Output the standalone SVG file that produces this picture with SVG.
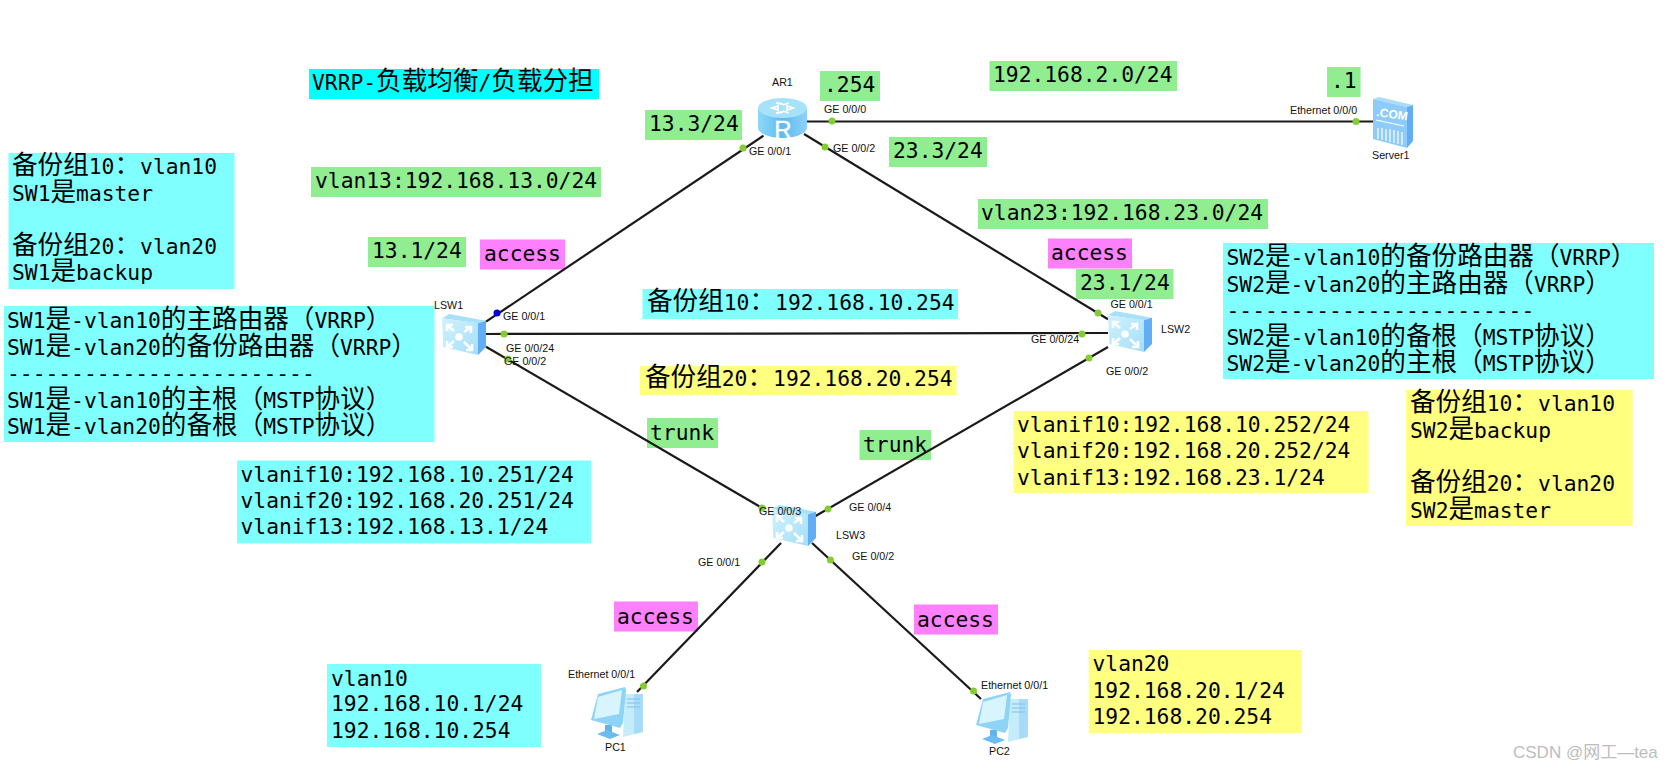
<svg xmlns="http://www.w3.org/2000/svg" width="1671" height="770" viewBox="0 0 1671 770">
<style>
.t{font-family:"DejaVu Sans Mono","Noto Sans CJK SC",monospace;font-size:21.3px;fill:#000}
.c{font-family:"Noto Sans CJK SC","DejaVu Sans Mono",sans-serif;font-size:25.6px}
.l{font-family:"Liberation Sans",Arial,sans-serif;font-size:10.7px;fill:#111}
.g{fill:#90EE90}.m{fill:#FF80FF}.b{fill:#80FFFF}.y{fill:#FFFF80}.a{fill:#00FFFF}
.w{stroke:#1a1a1a;stroke-width:2.2;fill:none}
.d{fill:#84CC33}
.ar{stroke:#fff;stroke-width:2.6;fill:none}
</style>
<defs>
<linearGradient id="rb" x1="0" y1="0" x2="1" y2="0"><stop offset="0" stop-color="#8fd8f8"/><stop offset=".5" stop-color="#5cbcf2"/><stop offset="1" stop-color="#8fd0f8"/></linearGradient>
<linearGradient id="sf" x1="0" y1="0" x2="1" y2="1"><stop offset="0" stop-color="#d0f2fd"/><stop offset="1" stop-color="#a4defa"/></linearGradient>
<g id="sw">
<polygon points="0,4.3 7,0 44,6.7 36,9.3" fill="#a8e0fa"/>
<polygon points="36,9.3 44,6.7 44,33 36,41" fill="#62aef5"/>
<polygon points="0,4.3 36,9.3 36,41 1.3,33" fill="url(#sf)"/>
<circle cx="17" cy="23" r="3.8" fill="#fff"/>
<path class="ar" d="M5,11 L12,17 M5,17V11H11 M29,13 L22,18 M29,19V13H23 M5,33 L12,27 M5,27V33H11 M30,36 L22,28 M30,30V36H24"/>
</g>
<g id="pc">
<polygon points="35,7 53,7 53,45 33,50" fill="#c4ecfb"/>
<polygon points="44,7 53,7 53,45 44,47" fill="#a6dcf8"/>
<path d="M37,12H50M37,16H50M37,20H50" stroke="#7cc0ea" stroke-width="1"/>
<polygon points="15,38 22,38 22,46 15,46" fill="#5fb4ee"/>
<polygon points="7,47 17,43 30,48 20,52" fill="#6cbcf0"/>
<polygon points="8,7 35,0 36,3 33,36 30,41 1,33" fill="#8ed4f6"/>
<polygon points="8,10 32,3 29,27 4,32" fill="#d8f4fd"/>
</g>
</defs>
<rect width="1671" height="770" fill="#fff"/>
<g id="notes">
<g id="title"><rect class="a" x="309" y="69" width="290" height="30"/><text class="t" x="312" y="90">VRRP-<tspan class="c">负载均衡</tspan>/<tspan class="c">负载分担</tspan></text></g>
<g id="n133"><rect class="g" x="645" y="110" width="97" height="30"/><text class="t" x="649" y="130.500">13.3/24</text></g>
<g id="n254"><rect class="g" x="820" y="71" width="60" height="30"/><text class="t" x="824" y="92">.254</text></g>
<g id="nvlan13"><rect class="g" x="311" y="167" width="290" height="30"/><text class="t" x="315" y="188">vlan13:192.168.13.0/24</text></g>
<g id="n131"><rect class="g" x="368" y="237" width="98" height="30"/><text class="t" x="372" y="258">13.1/24</text></g>
<g id="naccess1"><rect class="m" x="480" y="239.500" width="85" height="30"/><text class="t" x="484" y="261">access</text></g>
<g id="nsw1group"><rect class="b" x="8.5" y="153" width="226" height="136"/>
<text class="t" x="12" y="174"><tspan class="c">备份组</tspan>10<tspan class="c">：</tspan>vlan10</text>
<text class="t" x="12" y="200.500">SW1<tspan class="c">是</tspan>master</text>
<text class="t" x="12" y="253.500"><tspan class="c">备份组</tspan>20<tspan class="c">：</tspan>vlan20</text>
<text class="t" x="12" y="280">SW1<tspan class="c">是</tspan>backup</text></g>
<g id="nsw1role"><rect class="b" x="4" y="306" width="430.500" height="136"/>
<text class="t" x="7" y="328">SW1<tspan class="c">是</tspan>-vlan10<tspan class="c">的主路由器（</tspan>VRRP<tspan class="c">）</tspan></text>
<text class="t" x="7" y="354.500">SW1<tspan class="c">是</tspan>-vlan20<tspan class="c">的备份路由器（</tspan>VRRP<tspan class="c">）</tspan></text>
<text class="t" x="7" y="381">------------------------</text>
<text class="t" x="7" y="407.500">SW1<tspan class="c">是</tspan>-vlan10<tspan class="c">的主根（</tspan>MSTP<tspan class="c">协议）</tspan></text>
<text class="t" x="7" y="434">SW1<tspan class="c">是</tspan>-vlan20<tspan class="c">的备根（</tspan>MSTP<tspan class="c">协议）</tspan></text></g>
<g id="nvlanif1"><rect class="b" x="237" y="460.500" width="354" height="83"/>
<text class="t" x="240.500" y="481.500">vlanif10:192.168.10.251/24</text>
<text class="t" x="240.500" y="507.500">vlanif20:192.168.20.251/24</text>
<text class="t" x="240.500" y="534">vlanif13:192.168.13.1/24</text></g>
<g id="npc1"><rect class="b" x="327" y="664" width="214" height="83"/>
<text class="t" x="331" y="685.500">vlan10</text>
<text class="t" x="331" y="711">192.168.10.1/24</text>
<text class="t" x="331" y="737.500">192.168.10.254</text></g>
<g id="ng10"><rect class="b" x="642.500" y="289" width="315.500" height="30"/><text class="t" x="647" y="310"><tspan class="c">备份组</tspan>10<tspan class="c">：</tspan>192.168.10.254</text></g>
<g id="ng20"><rect class="y" x="640" y="366" width="316.500" height="29"/><text class="t" x="645" y="386"><tspan class="c">备份组</tspan>20<tspan class="c">：</tspan>192.168.20.254</text></g>
<g id="ntrunk1"><rect class="g" x="647" y="418" width="71" height="30"/><text class="t" x="650" y="440">trunk</text></g>
<g id="naccess3"><rect class="m" x="614" y="601.500" width="84" height="30"/><text class="t" x="617" y="623.500">access</text></g>
<g id="nnet2"><rect class="g" x="989.500" y="61" width="187.500" height="30"/><text class="t" x="993" y="82">192.168.2.0/24</text></g>
<g id="n1"><rect class="g" x="1327" y="67" width="33.600" height="30"/><text class="t" x="1331" y="88">.1</text></g>
<g id="n233"><rect class="g" x="889" y="137" width="98" height="30"/><text class="t" x="893" y="158">23.3/24</text></g>
<g id="nvlan23"><rect class="g" x="978" y="199" width="290" height="30"/><text class="t" x="981" y="220">vlan23:192.168.23.0/24</text></g>
<g id="naccess2"><rect class="m" x="1048" y="238.500" width="84" height="30"/><text class="t" x="1051" y="260">access</text></g>
<g id="n231"><rect class="g" x="1076" y="269" width="97.500" height="30"/><text class="t" x="1080" y="290">23.1/24</text></g>
<g id="nsw2role"><rect class="b" x="1223" y="243" width="431" height="136"/>
<text class="t" x="1226.500" y="265">SW2<tspan class="c">是</tspan>-vlan10<tspan class="c">的备份路由器（</tspan>VRRP<tspan class="c">）</tspan></text>
<text class="t" x="1226.500" y="291.500">SW2<tspan class="c">是</tspan>-vlan20<tspan class="c">的主路由器（</tspan>VRRP<tspan class="c">）</tspan></text>
<text class="t" x="1226.500" y="318">------------------------</text>
<text class="t" x="1226.500" y="344.500">SW2<tspan class="c">是</tspan>-vlan10<tspan class="c">的备根（</tspan>MSTP<tspan class="c">协议）</tspan></text>
<text class="t" x="1226.500" y="371">SW2<tspan class="c">是</tspan>-vlan20<tspan class="c">的主根（</tspan>MSTP<tspan class="c">协议）</tspan></text></g>
<g id="nvlanif2"><rect class="y" x="1013.500" y="411" width="355" height="82"/>
<text class="t" x="1017" y="432">vlanif10:192.168.10.252/24</text>
<text class="t" x="1017" y="458">vlanif20:192.168.20.252/24</text>
<text class="t" x="1017" y="484.500">vlanif13:192.168.23.1/24</text></g>
<g id="nsw2group"><rect class="y" x="1406" y="390" width="226.600" height="136"/>
<text class="t" x="1410" y="411"><tspan class="c">备份组</tspan>10<tspan class="c">：</tspan>vlan10</text>
<text class="t" x="1410" y="437.500">SW2<tspan class="c">是</tspan>backup</text>
<text class="t" x="1410" y="490.500"><tspan class="c">备份组</tspan>20<tspan class="c">：</tspan>vlan20</text>
<text class="t" x="1410" y="517.500">SW2<tspan class="c">是</tspan>master</text></g>
<g id="ntrunk2"><rect class="g" x="859.500" y="430" width="71.500" height="30"/><text class="t" x="863" y="452">trunk</text></g>
<g id="naccess4"><rect class="m" x="914" y="604.500" width="84" height="30"/><text class="t" x="917" y="626.500">access</text></g>
<g id="npc2"><rect class="y" x="1088.700" y="650" width="213.300" height="83"/>
<text class="t" x="1092.500" y="671">vlan20</text>
<text class="t" x="1092.500" y="697.500">192.168.20.1/24</text>
<text class="t" x="1092.500" y="724">192.168.20.254</text></g>
</g>
<g id="connectors">
<line class="w" x1="806" y1="121.500" x2="1373" y2="121.500"/>
<line class="w" x1="763.500" y1="135.700" x2="486" y2="321.700"/>
<line class="w" x1="804" y1="134" x2="1108" y2="319.300"/>
<line class="w" x1="486" y1="334" x2="1108" y2="333"/>
<line class="w" x1="486" y1="346.700" x2="760" y2="506.700"/>
<line class="w" x1="1108" y1="347" x2="815.600" y2="516"/>
<line class="w" x1="781" y1="543" x2="637" y2="692"/>
<line class="w" x1="812" y1="543" x2="981" y2="699"/>
<circle class="d" cx="743" cy="148" r="3.500"/><circle class="d" cx="832" cy="121" r="3.500"/><circle class="d" cx="825" cy="147" r="3.500"/><circle class="d" cx="1356" cy="121.500" r="3.500"/>
<circle cx="497" cy="313" r="3.500" fill="#0000e0"/><circle class="d" cx="504" cy="334" r="3.500"/><circle class="d" cx="508" cy="359" r="3.500"/>
<circle class="d" cx="1098" cy="313" r="3.500"/><circle class="d" cx="1082" cy="334" r="3.500"/><circle class="d" cx="1089" cy="358" r="3.500"/>
<circle class="d" cx="762" cy="508" r="3.500"/><circle class="d" cx="828" cy="509" r="3.500"/><circle class="d" cx="762" cy="562" r="3.500"/><circle class="d" cx="830.500" cy="560" r="3.500"/>
<circle class="d" cx="643.500" cy="686" r="3.500"/><circle class="d" cx="973.500" cy="691" r="3.500"/>
</g>
<g id="AR1">
<path d="M758,108V128A24.500,10 0 0 0 807,128V108Z" fill="url(#rb)"/>
<ellipse cx="782.500" cy="108" rx="24.500" ry="10" fill="#a6e2fa"/>
<path d="M772,108l6,-2v4zM793,108l-6,-2v4zM776,103l7,1M789,103l-6,2M776,113l7,-1M789,113l-6,-2" stroke="#fff" stroke-width="1.800" fill="none"/>
<text x="783" y="138" text-anchor="middle" font-family="Liberation Sans,sans-serif" font-size="24" fill="#fff" stroke="#fff" stroke-width=".4">R</text>
<text class="l" x="772" y="86">AR1</text>
<text class="l" x="749" y="154.500">GE 0/0/1</text><text class="l" x="824" y="113">GE 0/0/0</text><text class="l" x="833" y="152">GE 0/0/2</text>
</g>
<g id="Server1">
<polygon points="1373,99 1379,97 1413,105 1407,107" fill="#a8dcfa"/>
<polygon points="1407,107 1413,105 1413,141 1407,148" fill="#62aef5"/>
<polygon points="1373,99 1407,107 1407,148 1373,139" fill="#8fcbf8"/>
<text x="1376" y="116" font-family="Liberation Sans,sans-serif" font-size="12" font-weight="bold" fill="#fff" transform="rotate(8 1376 116)">.COM</text>
<path d="M1378,128V139M1382,128V140M1386,129V141M1390,129V142M1394,130V143M1398,131V144M1402,132V145M1376,120L1404,126" stroke="#fff" stroke-width="1.200" fill="none"/>
<text class="l" x="1372" y="158.500">Server1</text>
<text class="l" x="1290" y="114">Ethernet 0/0/0</text>
</g>
<g id="LSW1"><use href="#sw" x="442" y="314"/>
<text class="l" x="434" y="308.500">LSW1</text><text class="l" x="503" y="320">GE 0/0/1</text><text class="l" x="506" y="352">GE 0/0/24</text><text class="l" x="504" y="365">GE 0/0/2</text></g>
<g id="LSW2"><use href="#sw" x="1108" y="311"/>
<text class="l" x="1161" y="333">LSW2</text><text class="l" x="1110.500" y="308">GE 0/0/1</text><text class="l" x="1031" y="343">GE 0/0/24</text><text class="l" x="1106" y="375">GE 0/0/2</text></g>
<g id="LSW3"><use href="#sw" x="772" y="505"/>
<text class="l" x="836" y="538.500">LSW3</text><text class="l" x="759" y="515">GE 0/0/3</text><text class="l" x="849" y="511">GE 0/0/4</text><text class="l" x="852" y="560">GE 0/0/2</text><text class="l" x="698" y="566">GE 0/0/1</text></g>
<g id="PC1"><use href="#pc" x="590" y="687"/>
<text class="l" x="568" y="678">Ethernet 0/0/1</text><text class="l" x="605" y="751">PC1</text></g>
<g id="PC2"><use href="#pc" x="975" y="692"/>
<text class="l" x="981" y="689">Ethernet 0/0/1</text><text class="l" x="989" y="755">PC2</text></g>
<text x="1513" y="758" font-family="Liberation Sans,'Noto Sans CJK SC',sans-serif" font-size="17" fill="#bdbdbd">CSDN @网工—tea</text>
</svg>
